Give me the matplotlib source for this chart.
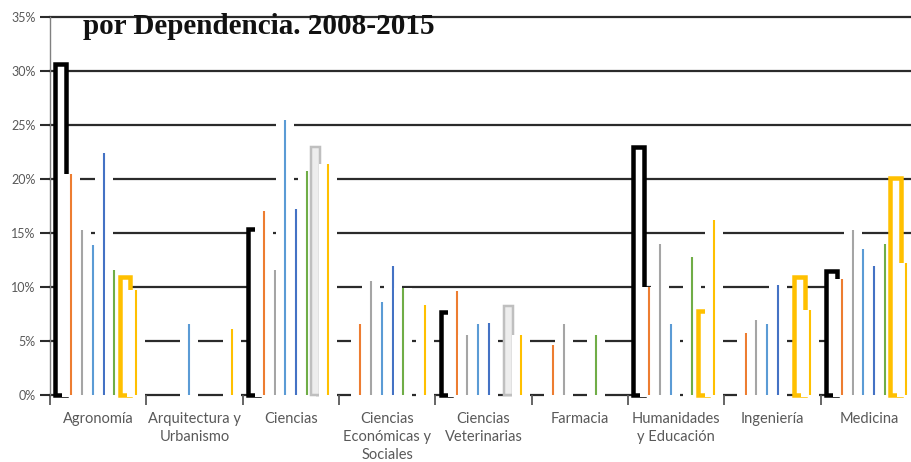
import matplotlib
matplotlib.use("Agg")
import matplotlib.pyplot as plt
from matplotlib.patches import Rectangle

# categories and the eight series (percent)
categories = ["Agronomía", "Arquitectura y\nUrbanismo", "Ciencias",
              "Ciencias\nEconómicas y\nSociales", "Ciencias\nVeterinarias",
              "Farmacia", "Humanidades\ny Educación", "Ingeniería", "Medicina"]

s_black = [30.9, 0, 15.6, 0, 7.9, 0, 23.2, 0, 11.7]
s_orange = [20.5, 0, 17.0, 6.6, 9.6, 4.6, 10.0, 5.7, 10.7]
s_gray = [15.3, 0, 11.6, 10.6, 5.6, 6.6, 14.0, 6.9, 15.3]
s_lblue = [13.9, 6.6, 25.5, 8.6, 6.6, 0, 6.6, 6.6, 13.5]
s_blue = [22.4, 0, 17.2, 11.9, 6.7, 0, 0, 10.2, 11.9]
s_green = [11.6, 0, 20.7, 9.9, 0, 5.6, 12.8, 0, 14.0]
s_box = [11.1, 0, 23.1, 0, 8.4, 0, 8.0, 11.1, 20.3]
box_is_gray = [False, False, True, False, True, False, False, False, False]
s_yellow = [9.7, 6.1, 21.4, 8.3, 5.6, 0, 16.2, 7.9, 12.2]

yticks = [0, 5, 10, 15, 20, 25, 30, 35]
title = "por Dependencia. 2008-2015"

W, H = 912, 462
fig = plt.figure(figsize=(W / 100, H / 100), dpi=100)
ax_left, ax_right, ax_bottom, ax_top = 50, 917, 395, 17
ax = fig.add_axes([ax_left / W, (H - ax_bottom) / H,
                   (ax_right - ax_left) / W, (ax_bottom - ax_top) / H])
ax.set_xlim(-0.5, len(categories) - 0.5)
ax.set_ylim(0, 35)

PX = len(categories) / (ax_right - ax_left)   # data units per pixel (x)
PY = 35 / (ax_bottom - ax_top)                # data units per pixel (y)

for v in yticks:
    ax.axhline(v, color="#2b2b2b", lw=1.6, zorder=0.5, clip_on=False)


def body(cx, v, z):
    # white column body: hides grid lines and earlier marks behind it
    w = 18 * PX
    ax.add_patch(Rectangle((cx - w / 2, -0.2), w, v + 0.2, facecolor="white",
                           edgecolor="none", zorder=z, clip_on=False))


def thin(cx, v, color, z):
    body(cx, v, z)
    ax.plot([cx, cx], [0, v], color=color, lw=1.5, zorder=z + 0.5,
            solid_capstyle="butt", clip_on=False)


def box(cx, v, edge, face, outer, lw_px, z):
    w = (outer - lw_px) * PX
    ax.add_patch(Rectangle((cx - w / 2, 0), w, v - lw_px / 2 * PY,
                           facecolor=face, edgecolor=edge, lw=lw_px * 0.72,
                           joinstyle="miter", zorder=z, clip_on=False))


z = 3
for i in range(len(categories)):
    slots = [i - 0.5 + (k + 1) / 9 for k in range(8)]
    if s_black[i]:
        box(slots[0], s_black[i], "black", "white", 15, 4.5, z)
    z += 1
    for k, (vals, col) in enumerate([(s_orange, "#ED7D31"), (s_gray, "#A5A5A5"),
                                     (s_lblue, "#5B9BD5"), (s_blue, "#4472C4"),
                                     (s_green, "#70AD47")]):
        if vals[i]:
            thin(slots[k + 1], vals[i], col, z)
        z += 1
    if s_box[i]:
        if box_is_gray[i]:
            box(slots[6] - 2 * PX, s_box[i], "#BFBFBF", "#EDEDED", 12, 2.5, z)
        else:
            box(slots[6], s_box[i], "#FFC000", "white", 15, 4.5, z)
    z += 1
    if s_yellow[i]:
        thin(slots[7], s_yellow[i], "#FFC000", z)
    z += 1

for side in ["top", "right", "bottom"]:
    ax.spines[side].set_visible(False)
ax.spines["left"].set_color("#808080")
ax.spines["left"].set_linewidth(1)
ax.spines["left"].set_zorder(0.6)

ax.set_yticks(yticks)
ax.set_yticklabels([f"{v}%" for v in yticks])
ax.tick_params(axis="y", length=7.5, width=1.5, color="#2b2b2b",
               labelcolor="#595959", labelsize=9, pad=3)
for lab in ax.get_yticklabels():
    lab.set_family("Lato")

ax.set_xticks(range(len(categories)))
ax.set_xticklabels(categories, fontsize=10.5, color="#595959", family="Lato",
                   linespacing=1.37)
ax.tick_params(axis="x", which="major", length=0, pad=12)
ax.set_xticks([i - 0.5 for i in range(len(categories) + 1)], minor=True)
ax.tick_params(axis="x", which="minor", length=7.5, width=1.3, color="#595959")

fig.text(83 / W, 1 - 34 / H, title, family="Liberation Serif", weight="bold",
         fontsize=21, color="#111111", va="baseline", ha="left", zorder=50)

fig.savefig("out.png", dpi=100)
